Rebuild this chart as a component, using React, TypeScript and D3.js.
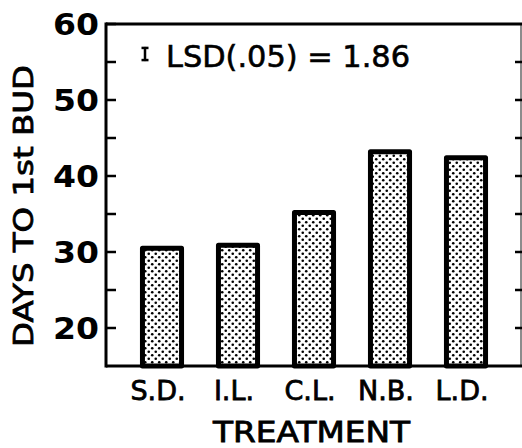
import * as d3 from 'd3';

const treatments = ['S.D.', 'I.L.', 'C.L.', 'N.B.', 'L.D.'];
const daysToBud = [30.5, 30.9, 35.2, 43.2, 42.4];
const majorTicks = [20, 30, 40, 50, 60];
const minorTicks = [25, 35, 45, 55];
const lsd = 1.86;

const W = 522;
const H = 448;
const FONT = '"DejaVu Sans", sans-serif';

export default function App() {
  const left = 106;
  const right = 521;
  const top = 24;
  const bottom = 366;

  const y = d3.scaleLinear().domain([15, 60]).range([bottom, top]);
  const x = d3
    .scaleBand<string>()
    .domain(treatments)
    .range([124, 504])
    .paddingInner(0.42)
    .paddingOuter(0.21);

  const sw = 5;
  const bw = x.bandwidth();
  const allTicks = [...majorTicks, ...minorTicks];
  const rightTicks = allTicks.filter(t => t < 60);

  // LSD bar in data units, placed next to the note
  const lsdMid = 54;
  const lsdPx = y(0) - y(lsd);

  return (
    <svg
      width={W}
      height={H}
      style={{ position: 'absolute', left: 0, top: 0, background: '#fff' }}
    >
      <defs>
        <pattern id="dots" width={7} height={7} patternUnits="userSpaceOnUse">
          <rect width={7} height={7} fill="#fff" />
          <circle cx={1.75} cy={1.75} r={1.3} fill="#000" />
          <circle cx={5.25} cy={5.25} r={1.3} fill="#000" />
        </pattern>
      </defs>

      {/* bars */}
      {treatments.map((t, i) => (
        <rect
          key={t}
          x={(x(t) || 0) + sw / 2}
          y={y(daysToBud[i])}
          width={bw - sw}
          height={bottom - y(daysToBud[i])}
          fill="url(#dots)"
          stroke="#000"
          strokeWidth={sw}
          strokeLinejoin="round"
        />
      ))}

      {/* frame */}
      <line x1={left} x2={W} y1={top} y2={top} stroke="#000" strokeWidth={3} />
      <line x1={left} x2={W} y1={bottom} y2={bottom} stroke="#000" strokeWidth={3} />
      <line x1={left} x2={left} y1={top - 1.5} y2={bottom + 1.5} stroke="#000" strokeWidth={3} />
      <line x1={right} x2={right} y1={top} y2={bottom} stroke="#000" strokeWidth={1.5} opacity={0.6} />

      {/* ticks */}
      {allTicks.map(t => (
        <line key={'l' + t} x1={left} x2={left + 10} y1={y(t)} y2={y(t)} stroke="#000" strokeWidth={2.5} />
      ))}
      {rightTicks.map(t => (
        <line key={'r' + t} x1={right - 6} x2={W} y1={y(t)} y2={y(t)} stroke="#000" strokeWidth={2.5} />
      ))}

      {/* y tick labels */}
      {majorTicks.map(t => (
        <text
          key={'t' + t}
          x={99}
          y={y(t) + 11}
          textAnchor="end"
          fontFamily={FONT}
          fontSize={30}
          fontWeight="bold"
          textLength={46}
          lengthAdjust="spacingAndGlyphs"
          fill="#000"
        >
          {t}
        </text>
      ))}

      {/* y axis title */}
      <text
        transform="translate(33,206) rotate(-90)"
        textAnchor="middle"
        fontFamily={FONT}
        fontSize={27}
        textLength={282}
        lengthAdjust="spacingAndGlyphs"
        fill="#000"
        stroke="#000"
        strokeWidth={0.8}
      >
        DAYS TO 1st BUD
      </text>

      {/* LSD note */}
      <g stroke="#000" strokeWidth={2.5}>
        <line x1={145} x2={145} y1={lsdMid - lsdPx / 2} y2={lsdMid + lsdPx / 2} />
        <line x1={141.5} x2={148.5} y1={lsdMid - lsdPx / 2 + 1} y2={lsdMid - lsdPx / 2 + 1} />
        <line x1={141.5} x2={148.5} y1={lsdMid + lsdPx / 2 - 1} y2={lsdMid + lsdPx / 2 - 1} />
      </g>
      <text
        x={166}
        y={67}
        fontFamily={FONT}
        fontSize={30}
        textLength={244}
        lengthAdjust="spacingAndGlyphs"
        fill="#000"
        stroke="#000"
        strokeWidth={0.6}
      >
        LSD(.05) = 1.86
      </text>

      {/* x labels */}
      {treatments.map(t => (
        <text
          key={'x' + t}
          x={(x(t) || 0) + bw / 2 - 4}
          y={400}
          textAnchor="middle"
          fontFamily={FONT}
          fontSize={27}
          fill="#000"
          stroke="#000"
          strokeWidth={0.8}
        >
          {t}
        </text>
      ))}
      <text
        x={311.5}
        y={442}
        textAnchor="middle"
        fontFamily={FONT}
        fontSize={28}
        textLength={197}
        lengthAdjust="spacingAndGlyphs"
        fill="#000"
        stroke="#000"
        strokeWidth={0.8}
      >
        TREATMENT
      </text>
    </svg>
  );
}
